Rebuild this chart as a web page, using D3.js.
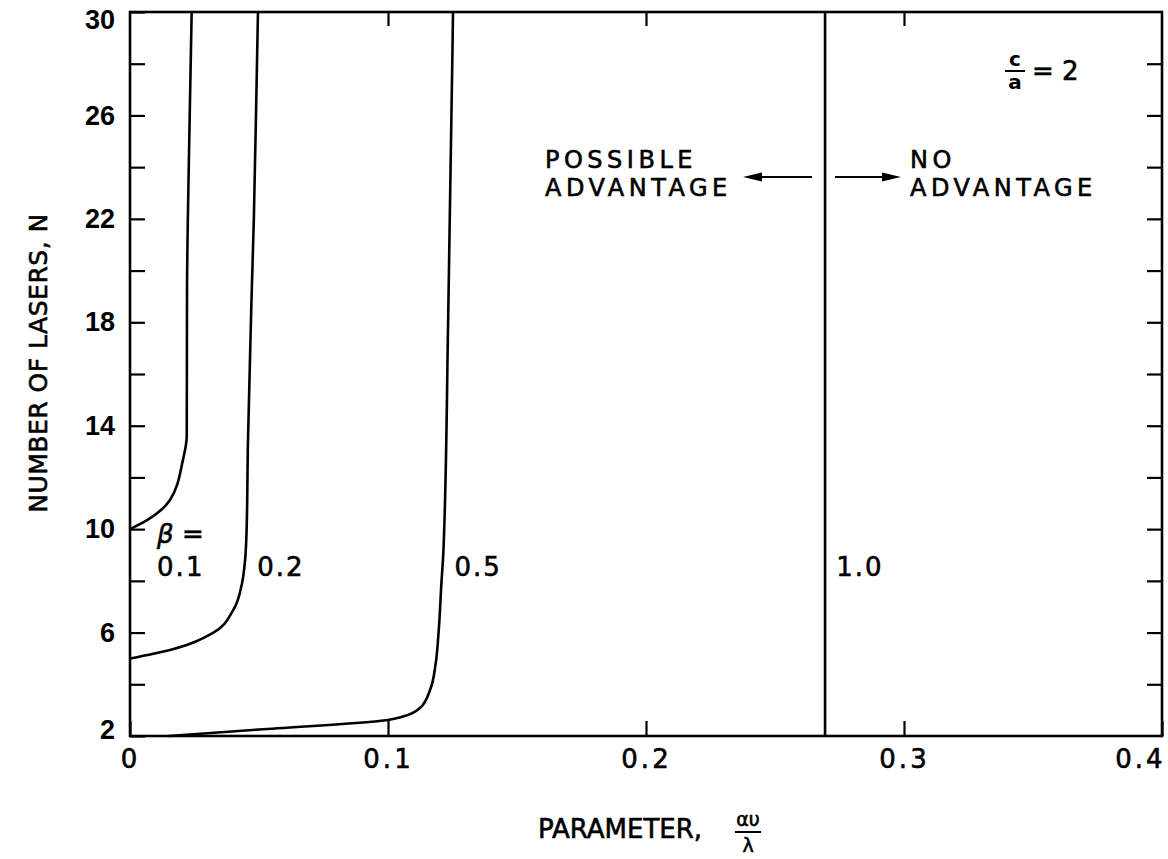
<!DOCTYPE html>
<html>
<head>
<meta charset="utf-8">
<script src="https://cdn.jsdelivr.net/npm/d3@7"></script>
<style>
  html, body { margin: 0; padding: 0; background: #fff; }
  svg { display: block; }
</style>
</head>
<body>
<svg id="chart" width="1168" height="859"></svg>
<script>
// ---- Data ----
const xTickValues = [0, 0.1, 0.2, 0.3, 0.4];
const xTickLabels = ["0", "0.1", "0.2", "0.3", "0.4"];
const yTickValues = [2, 4, 6, 8, 10, 12, 14, 16, 18, 20, 22, 24, 26, 28, 30];
const yTickLabels = ["2", "", "6", "", "10", "", "14", "", "18", "", "22", "", "26", "", "30"];

const betaLabels = ["0.1", "0.2", "0.5", "1.0"];
const beta01_x = [0, 0.0066, 0.0155, 0.0205, 0.022, 0.0221, 0.0229, 0.0239];
const beta01_N = [10, 10.35, 11.13, 12.67, 13.6, 19.2, 24.7, 30];
const beta02_x = [0, 0.0155, 0.032, 0.040, 0.0434, 0.0446, 0.0452, 0.0457, 0.0471, 0.048, 0.0491, 0.0496];
const beta02_N = [5, 5.33, 5.98, 6.87, 7.9, 8.8, 10, 13.3, 18.9, 22, 27.4, 30];
const beta05_x = [0.015, 0.05, 0.1, 0.1058, 0.1124, 0.1163, 0.1185, 0.1196, 0.1207, 0.1215, 0.1233, 0.1252];
const beta05_N = [2.0, 2.25, 2.62, 2.75, 3.08, 3.78, 4.82, 6.0, 7.9, 9.2, 18, 30];
const beta10_x = [0.2694, 0.2694];
const beta10_N = [2, 30];
// label anchor positions (data coords)
const betaLabel_x = [0.0105, 0.0493, 0.1258, 0.2737];
const betaLabel_N = [8.2, 8.2, 8.2, 8.2];

// ---- Layout ----
const svg = d3.select("#chart");
const mLeft = 130, mRight = 1162, mTop = 12, mBottom = 736;
const x = d3.scaleLinear().domain([0, 0.4]).range([mLeft, mRight]);
const y = d3.scaleLinear().domain([2, 30]).range([mBottom, mTop]);
const FONT = "'DejaVu Sans', 'Liberation Sans', sans-serif";
const ink = "#000";
const heavy = sel => sel.attr("stroke", ink).attr("stroke-width", 0.6);

svg.append("rect").attr("width", 1168).attr("height", 859).attr("fill", "#fff");

// Axes
const labelMapX = new Map(xTickValues.map((v, i) => [v, xTickLabels[i]]));
const labelMapY = new Map(yTickValues.map((v, i) => [v, yTickLabels[i]]));

const gx = svg.append("g").attr("transform", `translate(0,${mBottom})`)
  .call(d3.axisBottom(x).tickValues(xTickValues).tickSize(-15).tickPadding(14)
    .tickFormat(d => labelMapX.get(d)));
const gxTop = svg.append("g").attr("transform", `translate(0,${mTop})`)
  .call(d3.axisTop(x).tickValues(xTickValues.slice(1, -1)).tickSize(-14).tickFormat(""));
const gy = svg.append("g").attr("transform", `translate(${mLeft},0)`)
  .call(d3.axisLeft(y).tickValues(yTickValues).tickSize(-15).tickPadding(15)
    .tickFormat(d => labelMapY.get(d)));
const gyR = svg.append("g").attr("transform", `translate(${mRight},0)`)
  .call(d3.axisRight(y).tickValues(yTickValues.slice(1, -1)).tickSize(-15).tickFormat(""));

[gx, gxTop, gy, gyR].forEach(g => {
  g.select(".domain").remove();
  g.selectAll(".tick line").attr("stroke", ink).attr("stroke-width", 2.2);
});
gx.selectAll(".tick text")
  .attr("font-family", FONT).attr("font-size", 26).attr("fill", ink)
  .attr("letter-spacing", "3px").call(heavy);
gx.selectAll(".tick text").filter(d => d === 0.4).attr("text-anchor", "end").attr("x", 3);
gy.selectAll(".tick text")
  .attr("font-family", "'Liberation Sans', Arial, sans-serif").attr("font-weight", "bold")
  .attr("font-size", 27).attr("fill", ink);
gy.selectAll(".tick text").filter(d => d === 30).attr("dy", "0.62em");
gy.selectAll(".tick text").filter(d => d === 2).attr("dy", "0.1em");

// Frame
svg.append("rect")
  .attr("x", mLeft).attr("y", mTop).attr("width", mRight - mLeft).attr("height", mBottom - mTop)
  .attr("fill", "none").attr("stroke", ink).attr("stroke-width", 2.6);

// Curves
const series = [
  { xs: beta01_x, ns: beta01_N },
  { xs: beta02_x, ns: beta02_N },
  { xs: beta05_x, ns: beta05_N },
  { xs: beta10_x, ns: beta10_N }
];
const line = d3.line().x(d => x(d[0])).y(d => y(d[1])).curve(d3.curveMonotoneY);
svg.append("g").selectAll("path").data(series).join("path")
  .attr("d", s => line(s.xs.map((v, i) => [v, s.ns[i]])))
  .attr("fill", "none").attr("stroke", ink).attr("stroke-width", 2.6)
  .attr("stroke-linejoin", "round");

// Curve labels
svg.append("text").attr("x", x(betaLabel_x[0])).attr("y", y(betaLabel_N[0]) - 33)
  .attr("font-family", FONT).attr("font-size", 26).attr("fill", ink).call(heavy)
  .html('<tspan font-style="italic">β</tspan> =');
svg.append("g").selectAll("text").data(betaLabels).join("text")
  .attr("x", (d, i) => x(betaLabel_x[i])).attr("y", (d, i) => y(betaLabel_N[i]))
  .attr("font-family", FONT).attr("font-size", 26).attr("fill", ink)
  .attr("letter-spacing", "2px").call(heavy)
  .text(d => d);

// Region annotations
const ann = svg.append("g").attr("font-family", FONT).attr("font-size", 24).attr("fill", ink)
  .attr("letter-spacing", "4.5px").call(heavy);
ann.append("text").attr("x", 545).attr("y", 168).text("POSSIBLE");
ann.append("text").attr("x", 545).attr("y", 196).text("ADVANTAGE");
ann.append("text").attr("x", 910).attr("y", 168).text("NO");
ann.append("text").attr("x", 910).attr("y", 196).text("ADVANTAGE");

// Arrows
const arrowY = 177;
svg.append("line").attr("x1", 812).attr("x2", 756).attr("y1", arrowY).attr("y2", arrowY)
  .attr("stroke", ink).attr("stroke-width", 2);
svg.append("path").attr("d", `M743,${arrowY} L762,${arrowY - 4.5} L762,${arrowY + 4.5} Z`).attr("fill", ink);
svg.append("line").attr("x1", 835).attr("x2", 888).attr("y1", arrowY).attr("y2", arrowY)
  .attr("stroke", ink).attr("stroke-width", 2);
svg.append("path").attr("d", `M901,${arrowY} L882,${arrowY - 4.5} L882,${arrowY + 4.5} Z`).attr("fill", ink);

// c/a = 2
const ca = svg.append("g").attr("font-family", FONT).attr("fill", ink);
ca.append("text").attr("x", 1015).attr("y", 66).attr("text-anchor", "middle").attr("font-size", 20).attr("font-weight", "bold").text("c");
ca.append("line").attr("x1", 1005).attr("x2", 1025).attr("y1", 71).attr("y2", 71).attr("stroke", ink).attr("stroke-width", 2);
ca.append("text").attr("x", 1015).attr("y", 89).attr("text-anchor", "middle").attr("font-size", 20).attr("font-weight", "bold").text("a");
ca.append("text").attr("x", 1032).attr("y", 80).attr("font-size", 26).call(heavy).text("= 2");

// Axis titles
svg.append("text")
  .attr("transform", "translate(47,363) rotate(-90)")
  .attr("text-anchor", "middle")
  .attr("font-family", FONT).attr("font-size", 25).attr("fill", ink)
  .attr("letter-spacing", "0.5px").call(heavy)
  .text("NUMBER OF LASERS, N");

const xt = svg.append("g").attr("font-family", FONT).attr("fill", ink);
xt.append("text").attr("x", 538).attr("y", 838).attr("font-size", 26).call(heavy)
  .text("PARAMETER,");
xt.append("text").attr("x", 748).attr("y", 826).attr("text-anchor", "middle").attr("font-size", 19).call(heavy).text("αυ");
xt.append("line").attr("x1", 735).attr("x2", 761).attr("y1", 832).attr("y2", 832).attr("stroke", ink).attr("stroke-width", 2);
xt.append("text").attr("x", 748).attr("y", 852).attr("text-anchor", "middle").attr("font-size", 19).call(heavy).text("λ");
</script>
</body>
</html>
